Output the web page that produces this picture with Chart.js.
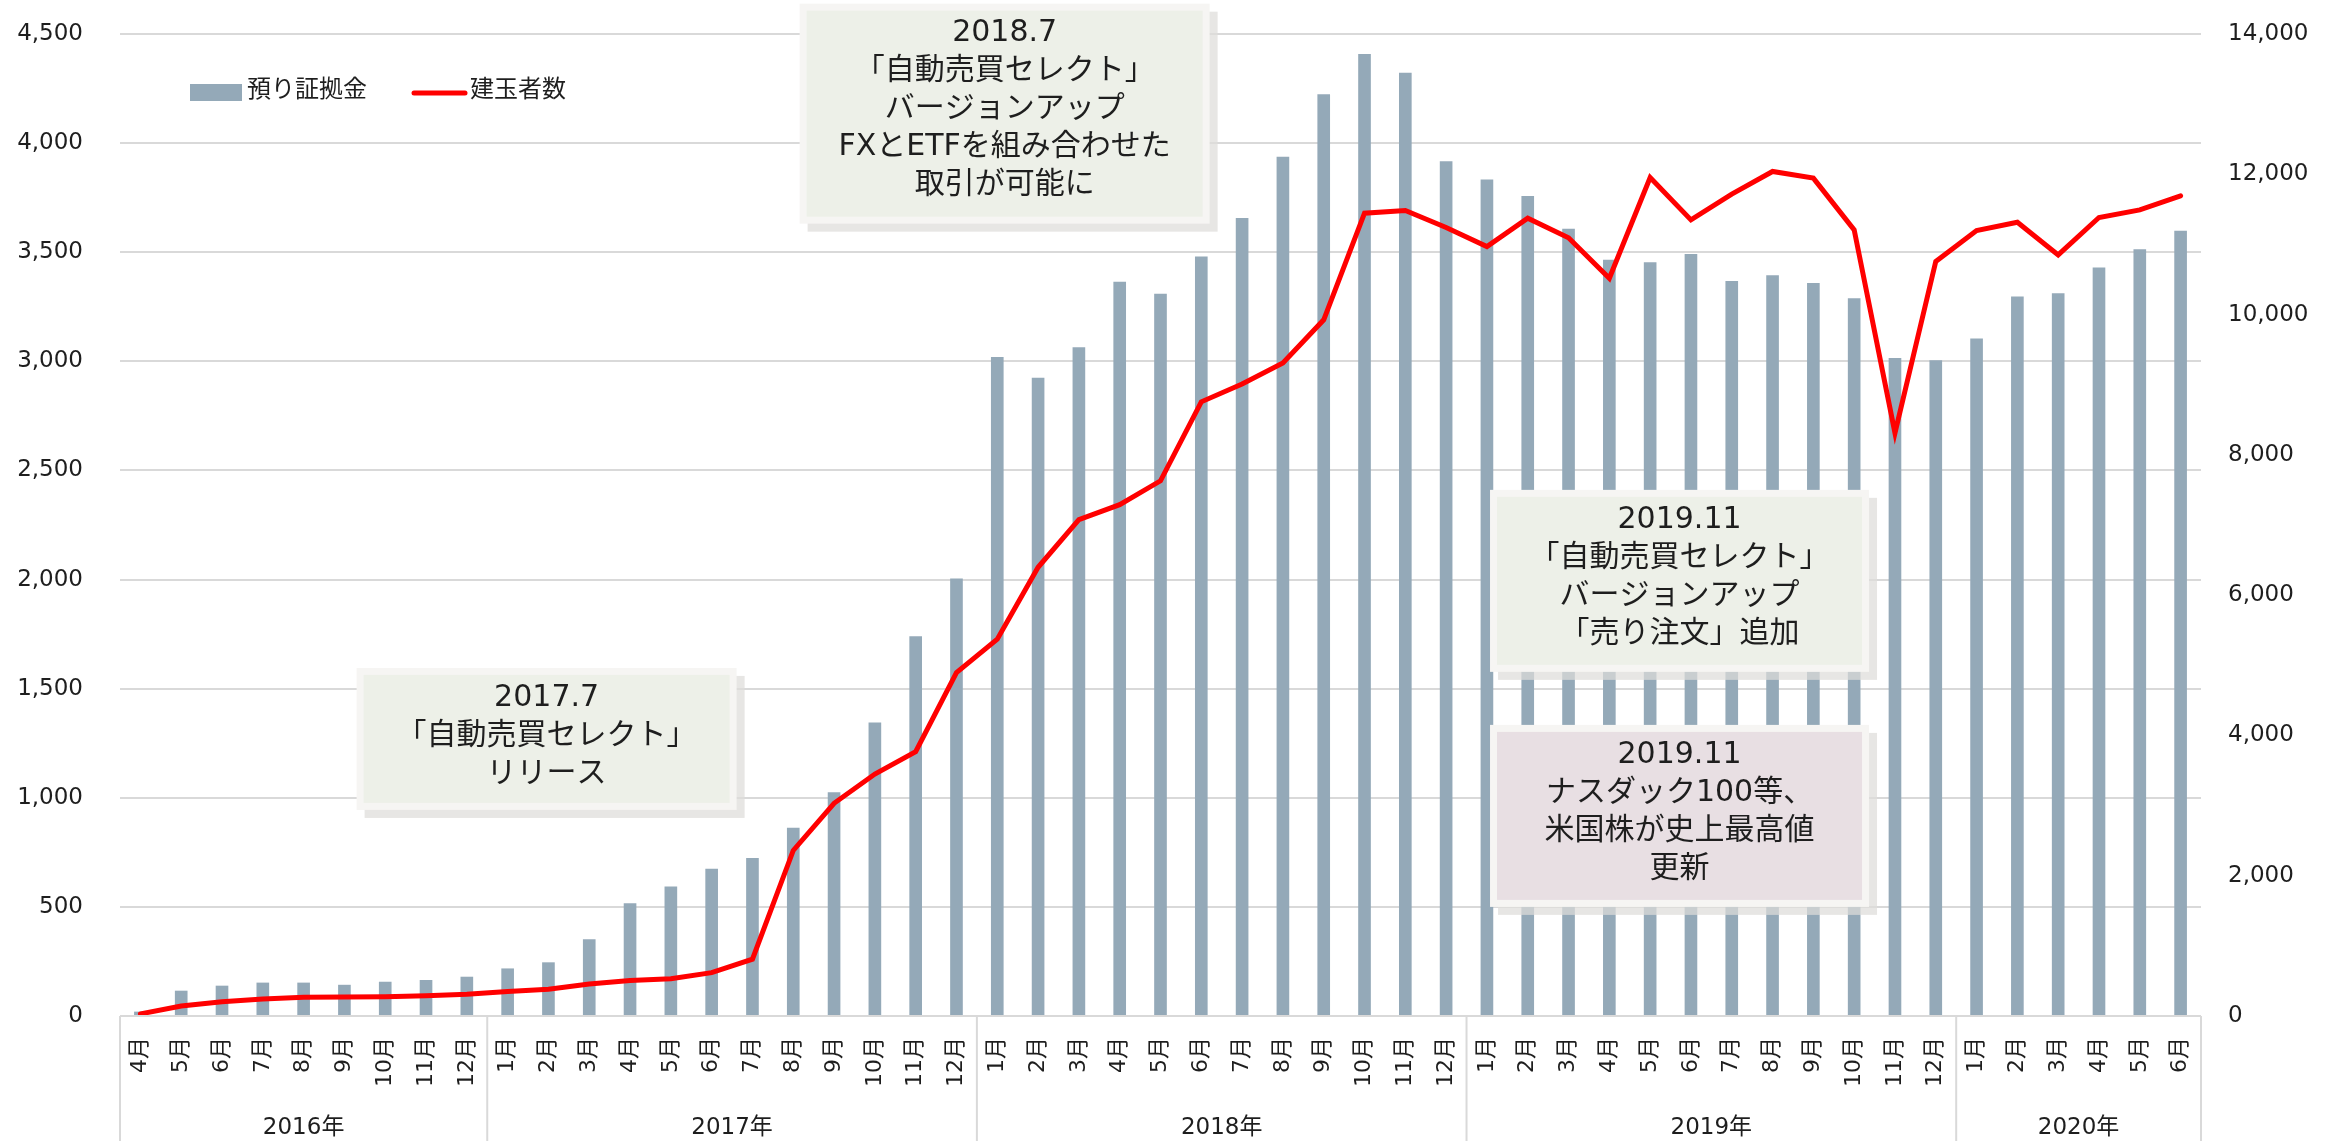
<!DOCTYPE html>
<html>
<head>
<meta charset="utf-8">
<script src="https://cdn.jsdelivr.net/npm/chart.js@4/dist/chart.umd.min.js"></script>
<style>
  html, body { margin: 0; padding: 0; background: #fff; }
  #wrap { width: 2336px; height: 1141px; }
</style>
</head>
<body>
<div id="wrap"><canvas id="depositChart" width="2336" height="1141"></canvas></div>
<script>
// months, 2016.4 - 2020.6
var months = [
  "4月", "5月", "6月", "7月", "8月", "9月", "10月", "11月", "12月",
  "1月", "2月", "3月", "4月", "5月", "6月", "7月", "8月", "9月", "10月", "11月", "12月",
  "1月", "2月", "3月", "4月", "5月", "6月", "7月", "8月", "9月", "10月", "11月", "12月",
  "1月", "2月", "3月", "4月", "5月", "6月", "7月", "8月", "9月", "10月", "11月", "12月",
  "1月", "2月", "3月", "4月", "5月", "6月"
];
var years = ["2016年", "2017年", "2018年", "2019年", "2020年"];
var yearCounts = [9, 12, 12, 12, 6];

// 預り証拠金 (left axis)
var deposit = [
  20, 116, 139, 153, 153, 143, 157, 165, 180,
  218, 246, 352, 517, 593, 675, 724, 863, 1025, 1345, 1740, 2005,
  3020, 2925, 3065, 3365, 3310, 3480, 3657, 3937, 4224, 4408, 4322, 3917,
  3833, 3758, 3608, 3465, 3454, 3492, 3368, 3394, 3359, 3289, 3015, 3005,
  3105, 3297, 3312, 3430, 3514, 3598
];
// 建玉者数 (right axis)
var holders = [
  30, 143, 204, 242, 266, 271, 275, 290, 309,
  348, 383, 456, 505, 530, 618, 810, 2360, 3032, 3450, 3768, 4897,
  5373, 6397, 7077, 7290, 7630, 8756, 9011, 9309, 9925, 11446, 11484, 11241,
  10970, 11374, 11095, 10518, 11955, 11350, 11717, 12040, 11945, 11208, 8310, 10756,
  11198, 11317, 10851, 11384, 11493, 11693
];

var leftTicks = { min: 0, max: 4500, step: 500 };
var rightTicks = { min: 0, max: 14000, step: 2000 };

// annotation boxes: x = category position, y = left axis value of the top edge
var notes = [
  { x: 21.18, y: 4639, w: 410, h: 220, fill: "#edf0e8",
    lines: ["2018.7", "「自動売買セレクト」", "バージョンアップ", "FXとETFを組み合わせた", "取引が可能に"] },
  { x: 9.955, y: 1595, w: 380, h: 142, fill: "#edf0e8",
    lines: ["2017.7", "「自動売買セレクト」", "リリース"] },
  { x: 37.72, y: 2411, w: 379, h: 182, fill: "#edf0e8",
    lines: ["2019.11", "「自動売買セレクト」", "バージョンアップ", "「売り注文」追加"] },
  { x: 37.72, y: 1334, w: 379, h: 182, fill: "#e8dfe3",
    lines: ["2019.11", "ナスダック100等、", "米国株が史上最高値", "更新"] }
];

var FONT = '"DejaVu Sans", "Noto Sans CJK JP", sans-serif';
var TEXT = "#1e1e1e";
var GRID = "#d9d9d9";

var extras = {
  id: "extras",
  afterDraw: function (chart) {
    var ctx = chart.ctx;
    var xs = chart.scales.x;
    var ys = chart.scales.y;
    var area = chart.chartArea;
    var H = chart.height;
    ctx.save();

    // axis line + year separators
    ctx.strokeStyle = GRID;
    ctx.lineWidth = 2;
    ctx.beginPath();
    ctx.moveTo(area.left, area.bottom);
    ctx.lineTo(area.right, area.bottom);
    ctx.stroke();
    var start = 0;
    ctx.font = "23px " + FONT;
    ctx.fillStyle = TEXT;
    ctx.textAlign = "center";
    ctx.textBaseline = "middle";
    for (var i = 0; i <= years.length; i++) {
      var bx = xs.getPixelForValue(start - 0.5);
      ctx.beginPath();
      ctx.moveTo(bx, area.bottom);
      ctx.lineTo(bx, H);
      ctx.stroke();
      if (i < years.length) {
        var ex = xs.getPixelForValue(start + yearCounts[i] - 0.5);
        ctx.fillText(years[i], (bx + ex) / 2, H - 13);
        start += yearCounts[i];
      }
    }

    // legend
    var ds = chart.data.datasets;
    var lx = area.left + 70, ly = area.top + 57;
    ctx.fillStyle = ds[0].backgroundColor;
    ctx.fillRect(lx, ly - 7, 52, 17);
    ctx.fillStyle = TEXT;
    ctx.textAlign = "left";
    ctx.font = "24px " + FONT;
    ctx.fillText(ds[0].label, lx + 57, ly);
    ctx.strokeStyle = ds[1].borderColor;
    ctx.lineWidth = 5;
    ctx.lineCap = "round";
    ctx.beginPath();
    ctx.moveTo(lx + 224, ly + 2);
    ctx.lineTo(lx + 275, ly + 2);
    ctx.stroke();
    ctx.fillText(ds[1].label, lx + 280, ly);

    // annotation boxes
    notes.forEach(function (n) {
      var cx = xs.getPixelForValue(n.x);
      var top = ys.getPixelForValue(n.y);
      var left = cx - n.w / 2;
      ctx.fillStyle = "rgba(222,221,217,0.72)";
      ctx.fillRect(left + 8, top + 8, n.w, n.h);
      ctx.fillStyle = "#f6f5f3";
      ctx.fillRect(left, top, n.w, n.h);
      ctx.fillStyle = n.fill;
      ctx.fillRect(left + 7, top + 7, n.w - 14, n.h - 14);
      ctx.fillStyle = TEXT;
      ctx.textAlign = "center";
      ctx.textBaseline = "middle";
      ctx.font = "30px " + FONT;
      n.lines.forEach(function (t, k) {
        ctx.fillText(t, cx, top + 30 + k * 38);
      });
    });
    ctx.restore();
  }
};

new Chart("depositChart", {
  type: "bar",
  data: {
    labels: months,
    datasets: [
      {
        type: "bar",
        label: "預り証拠金",
        data: deposit,
        backgroundColor: "#94a9b8",
        barPercentage: 0.31,
        categoryPercentage: 1,
        yAxisID: "y",
        order: 2
      },
      {
        type: "line",
        label: "建玉者数",
        data: holders,
        borderColor: "#ff0000",
        borderWidth: 5,
        borderCapStyle: "round",
        pointRadius: 0,
        tension: 0,
        fill: false,
        yAxisID: "y1",
        order: 1
      }
    ]
  },
  options: {
    responsive: false,
    animation: false,
    layout: { padding: { top: 34, left: 0, right: 0, bottom: 0 } },
    plugins: {
      legend: { display: false },
      tooltip: { enabled: false }
    },
    scales: {
      x: {
        offset: true,
        grid: { display: false, drawTicks: false },
        border: { display: false },
        ticks: {
          autoSkip: false,
          minRotation: 90,
          maxRotation: 90,
          padding: 21,
          color: TEXT,
          font: { family: FONT, size: 22 }
        },
        afterFit: function (s) { s.height = 125; }
      },
      y: {
        position: "left",
        min: leftTicks.min,
        max: leftTicks.max,
        grid: { color: GRID, lineWidth: 2, drawTicks: true, tickLength: 37, tickColor: "rgba(0,0,0,0)" },
        border: { display: false },
        ticks: {
          stepSize: leftTicks.step,
          padding: 0,
          color: TEXT,
          font: { family: FONT, size: 23 },
          callback: function (v) { return v.toLocaleString("en-US"); }
        },
        afterFit: function (s) { s.width = 120; }
      },
      y1: {
        position: "right",
        min: rightTicks.min,
        max: rightTicks.max,
        grid: { display: false, drawTicks: true, tickLength: 27, tickColor: "rgba(0,0,0,0)" },
        border: { display: false },
        ticks: {
          stepSize: rightTicks.step,
          padding: 0,
          color: TEXT,
          font: { family: FONT, size: 23 },
          callback: function (v) { return v.toLocaleString("en-US"); }
        },
        afterFit: function (s) { s.width = 135; }
      }
    }
  },
  plugins: [extras]
});
</script>
</body>
</html>
